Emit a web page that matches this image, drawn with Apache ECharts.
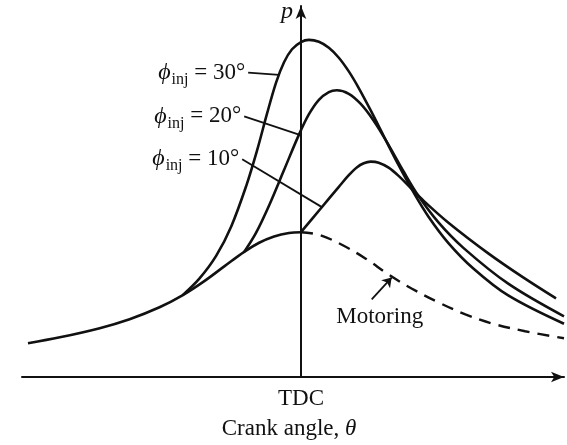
<!DOCTYPE html>
<html><head><meta charset="utf-8">
<script src="https://cdn.jsdelivr.net/npm/echarts@6/dist/echarts.min.js"></script>
<style>html,body{margin:0;padding:0;background:#fff}#c{width:567px;height:445px}</style>
</head><body><div id="c"></div>
<script>
// Crank angle (deg, TDC = 0) vs cylinder pressure (relative units)
const motoringCompression = [[-68.5,9.12],[-60.5,10.70],[-50.5,13.16],[-43,15.57],[-35.5,18.79],[-29.75,22.01],[-24.25,25.84],[-19.25,29.81],[-14.25,33.73],[-10.5,36.18],[-6.75,37.88],[-3,38.82],[0,39.03]];
const motoringExpansion = [[0,39.03],[4.5,38.34],[10.25,35.66],[16.25,31.90],[22,27.61],[27.75,23.86],[34.5,20.11],[41.25,16.89],[47.75,14.48],[56.25,12.33],[66,10.46]];
const inj30 = [[-29.75,22.01],[-25.5,26.51],[-21.25,32.71],[-17.5,40.59],[-13.75,51.47],[-11,61.13],[-8.5,71.05],[-6.25,79.36],[-4.25,84.85],[-2.25,88.34],[0,90.29],[2,90.88],[4.5,90.35],[7,88.74],[9.5,86.06],[12,82.37],[14.5,77.88],[17.5,71.85],[20.75,64.96],[24.5,57.10],[28.25,49.76],[32,43.22],[37,36.11],[43.25,29.25],[52,21.98],[66,14.34]];
const inj20 = [[-14.25,33.73],[-11.25,38.93],[-8,46.25],[-4.25,55.79],[-0.5,65.33],[2,70.83],[4.5,74.72],[7,76.81],[9,77.29],[12,76.33],[15,73.59],[18.25,69.06],[22,62.52],[25.75,55.39],[29.5,48.77],[34.5,41.66],[40.75,34.80],[52,25.15],[66,16.35]];
const inj10 = [[0,39.03],[4.75,45.15],[9.5,51.26],[12,54.40],[14,56.49],[15.75,57.61],[17.5,58.04],[19.5,57.77],[22,56.43],[24.5,54.21],[27.5,50.99],[30.75,47.51],[37,41.58],[47,33.32],[55.75,26.84],[64,21.18]];
const injLabels = ['30°','20°','10°'];
const leaderStart = [[-13.25,82.04],[-14.25,70.24],[-14.75,58.71]];
const leaderEnd = [[-5.5,81.42],[-0.5,65.33],[5.25,45.79]];
const motoringArrow = [[17.75,20.9],[22.75,26.8]];
const motoringLabelAt = [19.75,16.2];
const xTickLabel = 'TDC';
const xName = 'Crank angle, ';
const yName = 'p';

const ink = '#111';
const serif = '"Liberation Serif","DejaVu Serif",serif';
const curve = (name, data, extra) => Object.assign({
  name, type: 'line', data, smooth: 0.35, symbol: 'none', silent: true,
  lineStyle: {color: ink, width: 2.6}
}, extra || {});
const leader = (i) => ({
  silent: true, symbol: ['none','none'], label: {show: false},
  lineStyle: {color: ink, width: 1.8, type: 'solid'},
  data: [[{coord: leaderStart[i]}, {coord: leaderEnd[i]}]]
});

const chart = echarts.init(document.getElementById('c'), null, {renderer: 'canvas'});
chart.setOption({
  animation: false,
  backgroundColor: '#fff',
  grid: {left: 22, right: 1, top: 5, bottom: 67, containLabel: false},
  xAxis: {
    type: 'value', min: -70, max: 66, interval: 70,
    axisLine: {onZero: false, symbol: ['none','arrow'], symbolSize: [8, 13], lineStyle: {color: ink, width: 2}},
    axisTick: {show: false}, splitLine: {show: false},
    axisLabel: {margin: 10, color: ink, fontFamily: serif, fontSize: 23, formatter: v => v === 0 ? xTickLabel : ''},
    name: xName + '{i|θ}', nameLocation: 'middle', nameGap: 40,
    nameTextStyle: {color: ink, fontFamily: serif, fontSize: 23, padding: [0, 8, 0, 0], rich: {i: {fontStyle: 'italic', fontFamily: serif, fontSize: 23, color: ink}}}
  },
  yAxis: {
    type: 'value', min: 0, max: 100,
    axisLine: {onZero: true, symbol: ['none','arrow'], symbolSize: [8, 13], lineStyle: {color: ink, width: 2}},
    axisTick: {show: false}, splitLine: {show: false}, axisLabel: {show: false},
    name: yName, nameLocation: 'end', nameGap: -6,
    nameTextStyle: {color: ink, fontFamily: serif, fontStyle: 'italic', fontSize: 24, align: 'right', verticalAlign: 'middle', padding: [0, 8, 0, 0]}
  },
  series: [
    curve('Motoring compression', motoringCompression),
    curve('Motoring', motoringExpansion, {
      lineStyle: {color: ink, width: 2.4, type: [12, 8]},
      markLine: {silent: true, symbol: ['none','arrow'], symbolSize: 9, label: {show: false},
        lineStyle: {color: ink, width: 1.8, type: 'solid'},
        data: [[{coord: motoringArrow[0]}, {coord: motoringArrow[1]}]]}
    }),
    curve('inj30', inj30, {markLine: leader(0)}),
    curve('inj20', inj20, {markLine: leader(1)}),
    curve('inj10', inj10, {markLine: leader(2)}),
    {
      type: 'scatter', silent: true, symbolSize: 0,
      itemStyle: {opacity: 1, color: 'rgba(0,0,0,0)'},
      data: leaderStart.map((p, i) => ({
        value: p,
        label: {show: true, position: 'left', distance: 3,
          formatter: '{phi|ϕ}{sub|inj}{eq| = ' + injLabels[i] + '}'}
      })).concat([{
        value: motoringLabelAt,
        label: {show: true, position: 'inside', formatter: '{eq|Motoring}'}
      }]),
      label: {
        color: ink, fontFamily: serif, fontSize: 23,
        rich: {
          phi: {fontFamily: serif, fontStyle: 'italic', fontSize: 24, color: ink},
          sub: {fontFamily: serif, fontSize: 16, color: ink, padding: [14, 0, 0, 1]},
          eq: {fontFamily: serif, fontSize: 23, color: ink}
        }
      }
    }
  ]
});
</script></body></html>
